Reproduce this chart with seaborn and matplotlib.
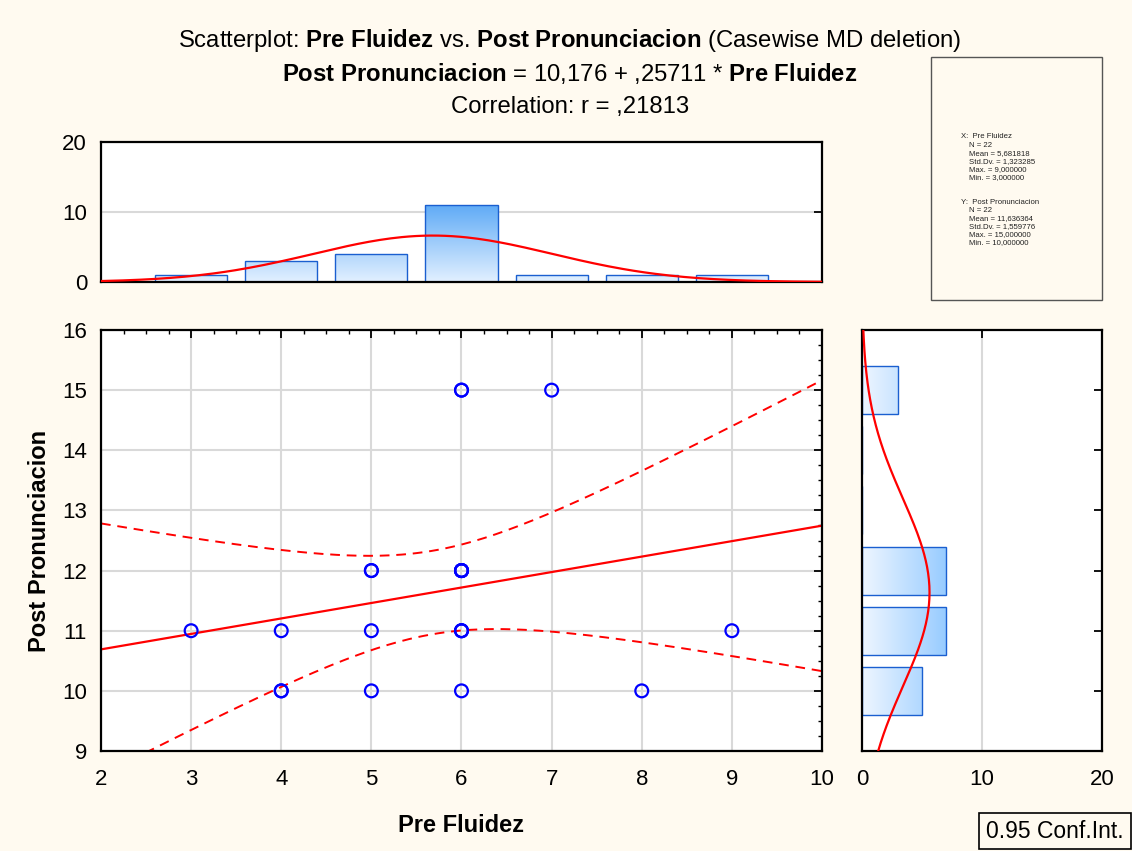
import numpy as np
import pandas as pd
import matplotlib
matplotlib.use("Agg")
import matplotlib.pyplot as plt
import seaborn as sns
from matplotlib.ticker import MultipleLocator
from matplotlib.colors import LinearSegmentedColormap
from matplotlib.patches import Rectangle

# ---- data ----
pre_fluidez = [3, 4, 4, 4, 5, 5, 5, 5, 6, 6, 6, 6, 6, 6, 6, 6, 6, 6, 6, 7, 8, 9]
post_pron = [11, 11, 10, 10, 12, 12, 11, 10, 15, 15, 12, 12, 12, 12, 12, 11, 11, 11, 10, 15, 10, 11]
x_ticks = [2, 3, 4, 5, 6, 7, 8, 9, 10]
y_ticks = [9, 10, 11, 12, 13, 14, 15, 16]
count_ticks = [0, 10, 20]
t_crit = 2.086  # t(0.975, 20)

df = pd.DataFrame({"Pre Fluidez": pre_fluidez, "Post Pronunciacion": post_pron})
x = df["Pre Fluidez"].to_numpy(float)
y = df["Post Pronunciacion"].to_numpy(float)
n = len(x)
xm, ym = x.mean(), y.mean()
sx, sy = x.std(ddof=1), y.std(ddof=1)
Sxx = ((x - xm) ** 2).sum()
b = ((x - xm) * (y - ym)).sum() / Sxx
a = ym - b * xm
r = np.corrcoef(x, y)[0, 1]
s = np.sqrt(((y - (a + b * x)) ** 2).sum() / (n - 2))

sns.set_theme(style="white")
FONT = ["Liberation Sans", "DejaVu Sans"]
plt.rcParams["font.family"] = FONT
plt.rcParams["mathtext.fontset"] = "custom"
plt.rcParams["mathtext.rm"] = "Liberation Sans"
plt.rcParams["mathtext.bf"] = "Liberation Sans:bold"
plt.rcParams["mathtext.it"] = "Liberation Sans:italic"

BG = "#fffaf0"
GRID = "#d9d9d9"
fig = plt.figure(figsize=(11.32, 8.51), dpi=100, facecolor=BG)

W, H = 1132, 851
def ax_rect(l, t, r_, b_):
    return [l / W, 1 - b_ / H, (r_ - l) / W, (b_ - t) / H]

ax = fig.add_axes(ax_rect(101, 330, 822, 751))
axt = fig.add_axes(ax_rect(101, 142, 822, 282))
axr = fig.add_axes(ax_rect(862, 330, 1102, 751))

for a_ in (ax, axt, axr):
    a_.set_facecolor("white")
    for sp in a_.spines.values():
        sp.set_color("black")
        sp.set_linewidth(1.6)
        sp.set_visible(True)
    a_.tick_params(which="both", direction="in", top=True, right=True, color="black",
                   labelsize=16, labelcolor="black")
    a_.tick_params(axis="x", which="both", pad=13)
    a_.tick_params(axis="y", which="both", pad=10)
    a_.tick_params(which="major", length=6, width=1.3)
    a_.tick_params(which="minor", length=3, width=1.0)

# ---- main scatter ----
ax.set_xlim(2, 10)
ax.set_ylim(9, 16)
ax.set_xticks(x_ticks)
ax.set_yticks(y_ticks)
ax.xaxis.set_minor_locator(MultipleLocator(0.25))
ax.yaxis.set_minor_locator(MultipleLocator(0.25))
ax.grid(True, which="major", color=GRID, linewidth=1.5)
ax.set_axisbelow(True)

xx = np.linspace(2, 10, 200)
yy = a + b * xx
se = s * np.sqrt(1 / n + (xx - xm) ** 2 / Sxx)
sns.lineplot(x=xx, y=yy, ax=ax, color="#ff0000", linewidth=1.6)
sns.lineplot(x=xx, y=yy + t_crit * se, ax=ax, color="#ff0000", linewidth=1.4, linestyle=(0, (5, 3.5)))
sns.lineplot(x=xx, y=yy - t_crit * se, ax=ax, color="#ff0000", linewidth=1.4, linestyle=(0, (5, 3.5)))
sns.scatterplot(data=df, x="Pre Fluidez", y="Post Pronunciacion", ax=ax, marker="o", s=85,
                color="#0000ff", edgecolor="#0000ff", linewidth=1.6, zorder=5)
ax.collections[-1].set_facecolor("none")
ax.set_xlabel("Pre Fluidez", fontsize=17, fontweight="bold", labelpad=17, color="black")
ax.set_ylabel("Post Pronunciacion", fontsize=17, fontweight="bold", labelpad=8, color="black")

# ---- top histogram ----
sns.histplot(x=x, ax=axt, discrete=True, shrink=0.8, color="#cfe6ff", edgecolor="#1a5fd0",
             linewidth=1.0, alpha=1)
axt.set_xlim(2, 10)
axt.set_ylim(0, 20)
axt.set_yticks(count_ticks)
axt.set_xticks(x_ticks[1:-1])
axt.tick_params(axis="x", labelbottom=False, top=False)
axt.grid(True, axis="y", color=GRID, linewidth=1.5)
axt.set_axisbelow(True)
axt.set_xlabel("")
axt.set_ylabel("")
cmap_v = LinearSegmentedColormap.from_list("v", ["#e2f0ff", "#5aa8f6"])
grad_v = np.linspace(0, 1, 256).reshape(-1, 1)
for p in list(axt.patches):
    im = axt.imshow(grad_v, cmap=cmap_v, origin="lower", aspect="auto",
                    extent=[p.get_x(), p.get_x() + p.get_width(), 0, 11.5], zorder=1.5)
    im.set_clip_path(p)
    p.set_facecolor("none")
    p.set_zorder(2)
xc = np.linspace(2, 10, 200)
pdf_x = n * np.exp(-0.5 * ((xc - xm) / sx) ** 2) / (sx * np.sqrt(2 * np.pi))
sns.lineplot(x=xc, y=pdf_x, ax=axt, color="#ff0000", linewidth=1.6, zorder=3)
axt.set_xlim(2, 10)
axt.set_ylim(0, 20)

# ---- right histogram ----
sns.histplot(y=y, ax=axr, discrete=True, shrink=0.8, color="#cfe6ff", edgecolor="#1a5fd0",
             linewidth=1.0, alpha=1)
axr.set_ylim(9, 16)
axr.set_xlim(0, 20)
axr.set_xticks(count_ticks)
axr.set_yticks(y_ticks)
axr.tick_params(axis="y", labelleft=False)
axr.grid(True, axis="x", color=GRID, linewidth=1.5)
axr.set_axisbelow(True)
axr.set_xlabel("")
axr.set_ylabel("")
cmap_h = LinearSegmentedColormap.from_list("h", ["#eef6ff", "#96cbff"])
grad_h = np.linspace(0, 1, 256).reshape(1, -1)
for p in list(axr.patches):
    im = axr.imshow(grad_h, cmap=cmap_h, origin="lower", aspect="auto",
                    extent=[0, 7.2, p.get_y(), p.get_y() + p.get_height()], zorder=1.5)
    im.set_clip_path(p)
    p.set_facecolor("none")
    p.set_zorder(2)
yc = np.linspace(9, 16, 200)
pdf_y = n * np.exp(-0.5 * ((yc - ym) / sy) ** 2) / (sy * np.sqrt(2 * np.pi))
axr.plot(pdf_y, yc, color="#ff0000", linewidth=1.6, zorder=3)
axr.set_ylim(9, 16)
axr.set_xlim(0, 20)

# ---- titles ----
def fmt(v, d):
    s_ = f"{v:.{d}f}".replace(".", ",")
    return s_[1:] if s_.startswith("0,") else s_

TS = 17.2
fig.text(570 / W, 1 - 40 / H,
         r"Scatterplot: $\mathbf{Pre\ Fluidez}$ vs. $\mathbf{Post\ Pronunciacion}$ (Casewise MD deletion)",
         ha="center", va="center", fontsize=TS, color="black")
fig.text(570 / W, 1 - 74 / H,
         r"$\mathbf{Post\ Pronunciacion}$ = " + fmt(a, 3) + " + " + fmt(b, 5) + r" * $\mathbf{Pre\ Fluidez}$",
         ha="center", va="center", fontsize=TS, color="black")
fig.text(570 / W, 1 - 107 / H, "Correlation: r = " + fmt(r, 5),
         ha="center", va="center", fontsize=TS, color="black")

# ---- stats box ----
fig.patches.append(Rectangle((931 / W, 1 - 300 / H), (1102 - 931) / W, (300 - 57) / H,
                             transform=fig.transFigure, facecolor=BG, edgecolor="#555555",
                             linewidth=1.0))
def num(v):
    return f"{v:.6f}".replace(".", ",")

stats_x = [("X:  Pre Fluidez", 0), ("N = 22", 1), ("Mean = " + num(xm), 1),
           ("Std.Dv. = " + num(sx), 1), ("Max. = " + num(x.max()), 1), ("Min. = " + num(x.min()), 1)]
stats_y = [("Y:  Post Pronunciacion", 0), ("N = 22", 1), ("Mean = " + num(ym), 1),
           ("Std.Dv. = " + num(sy), 1), ("Max. = " + num(y.max()), 1), ("Min. = " + num(y.min()), 1)]
for start, block in ((137, stats_x), (202, stats_y)):
    for i, (t, ind) in enumerate(block):
        fig.text((961 + 8 * ind) / W, 1 - (start + i * 8.1) / H, t, fontsize=5.6, va="center",
                 ha="left", color="#222222")

# ---- legend box ----
fig.text(986 / W, 1 - 831 / H, "0.95 Conf.Int.", fontsize=16.5, va="center", ha="left",
         color="black",
         bbox=dict(boxstyle="square,pad=0.3", facecolor=BG, edgecolor="black", linewidth=1.2))

fig.savefig("out.png", dpi=100, facecolor=BG)
